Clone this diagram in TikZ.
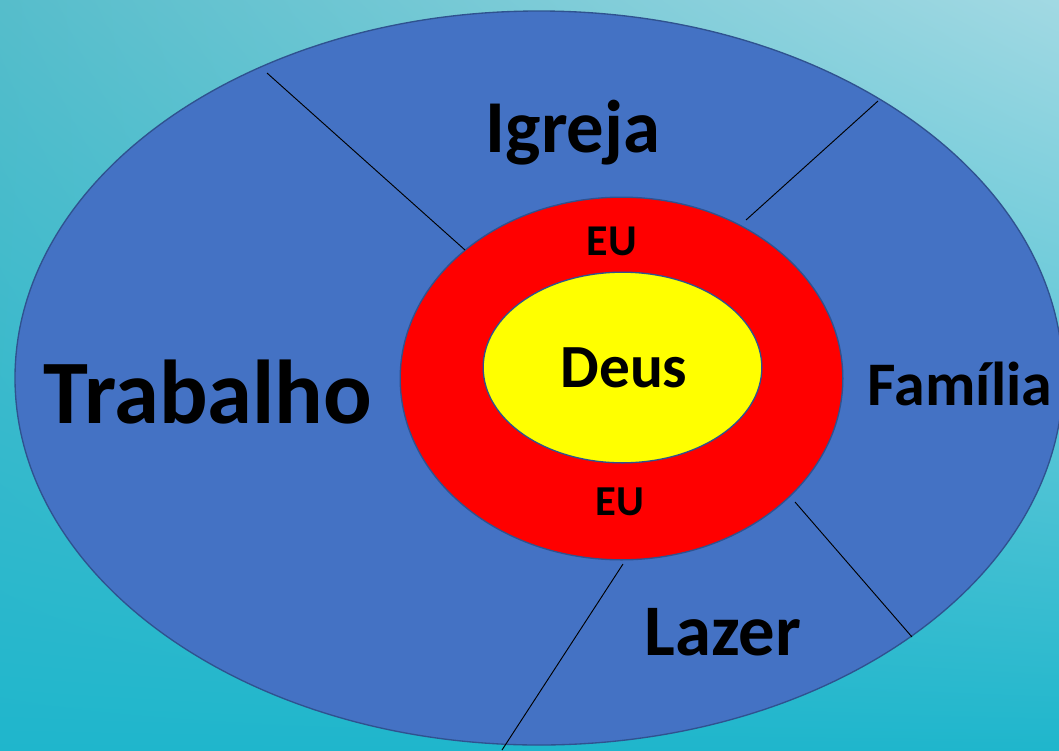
\documentclass[tikz,border=0pt]{standalone}
\usepackage{fontspec}
\setmainfont{Carlito}
\usetikzlibrary{shapes.geometric,shadings}

\definecolor{sea}{HTML}{56BDCB}
\definecolor{seasky}{HTML}{A2D9E3}
\definecolor{seadeep}{HTML}{1FB6CC}
\definecolor{ringblue}{HTML}{4472C4}
\definecolor{rimblue}{HTML}{2F528F}
\definecolor{coreyellow}{HTML}{FFFF00}
\definecolor{selfred}{HTML}{FF0000}

\begin{document}
\begin{tikzpicture}[x=0.75pt,y=-0.75pt,
  zone/.style={ellipse,draw=rimblue,line width=1pt,inner sep=0pt},
  lbl/.style={anchor=base,text=black,font={\fontsize{#1}{#1}\selectfont\bfseries}},
  divider/.style={draw=black,line width=0.7pt},
]
  % background
  \shade[upper left=sea,upper right=seasky,lower left=seadeep,lower right=seadeep]
    (0,0) rectangle (1059,750);
  \useasboundingbox (0,0) rectangle (1059,750);

  % rings
  \node[zone,fill=ringblue,minimum width=786pt,minimum height=550.5pt] (life) at (539,378) {};
  \node[zone,fill=selfred,minimum width=332pt,minimum height=272pt] (self) at (621.5,378.5) {};
  \node[zone,fill=coreyellow,minimum width=209pt,minimum height=143pt] (god) at (622.5,367.5) {};

  % dividers
  \coordinate (d1a) at (267,73);   \coordinate (d1b) at (465,250);
  \coordinate (d2a) at (878,101);  \coordinate (d2b) at (746,220);
  \coordinate (d3a) at (795,502);  \coordinate (d3b) at (912,637);
  \coordinate (d4a) at (623,564);  \coordinate (d4b) at (502,750);
  \foreach \a/\b in {d1a/d1b,d2a/d2b,d3a/d3b,d4a/d4b}
    \draw[divider] (\a) -- (\b);

  % labels
  \node[lbl=68] (work)   at (208,423) {Trabalho};
  \node[lbl=56] (church) at (573,152) {Igreja};
  \node[lbl=46.5] (family) at (960,405) {Família};
  \node[lbl=54.5] (leisure) at (723,655) {Lazer};
  \node[lbl=46] (deus) at (624,387) {Deus};
  \node[lbl=33] (eutop) at (612,255) {EU};
  \node[lbl=32] (eubot) at (620,515) {EU};
\end{tikzpicture}
\end{document}
